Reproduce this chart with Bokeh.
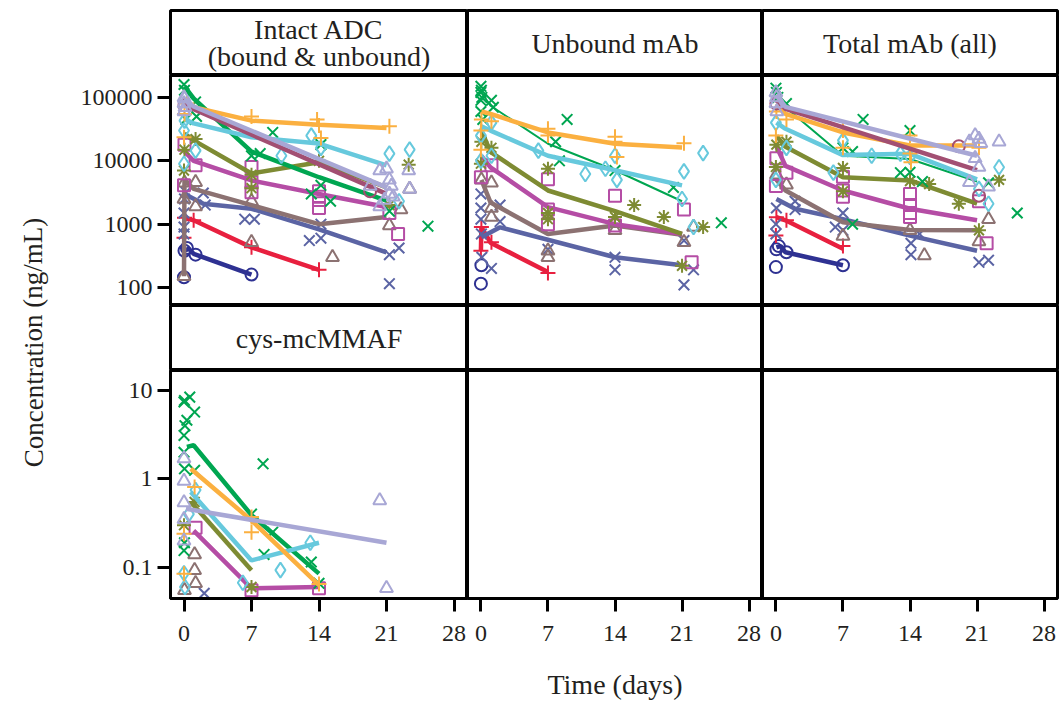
from bokeh.plotting import figure
from bokeh.layouts import row, column
from bokeh.models import Range1d, FixedTicker, CustomJSTickFormatter
from bokeh.core.properties import value
from bokeh.embed import file_html
from bokeh.resources import INLINE

FONT = "Liberation Serif"
INK = "#231F20"

# ---------------- panel / tick labels ----------------
STRIP_LABELS = ["Intact ADC\n(bound & unbound)", "Unbound mAb", "Total mAb (all)", "cys-mcMMAF", "", ""]
X_TICKS = [0, 7, 14, 21, 28]
Y_TICKS_TOP = [100, 1000, 10000, 100000]
Y_TICKS_BOTTOM = [0.1, 1, 10]

# ---------------- group styles (colour, marker) ----------------
GROUP_ORDER = ["navy", "red", "slate", "brown", "magenta", "olive", "green", "cyan", "orange", "rose", "lavender"]
COLORS = dict(navy="#2E3192", red="#E8203F", slate="#5B64A4", brown="#8C7272", magenta="#B54DA5",
              olive="#7E8B33", green="#00A651", cyan="#67C9DD", orange="#FBB040", rose="#A24F72",
              lavender="#A8A7D5")
MARKERS = dict(navy="circle", red="cross", slate="x", brown="triangle", magenta="square", olive="asterisk",
               green="x", cyan="diamond", orange="cross", rose="circle", lavender="triangle")
MARKER_SIZE = dict(circle=12, cross=15, x=15, triangle=13, square=12, asterisk=14, diamond=15)

# ---------------- Intact ADC (ng/mL) ----------------
adc_navy = dict(lt=[0.05, 0.5, 1, 7], lv=[380, 410, 340, 160],
                pt=[0, 0.05, 0.3, 1.2, 7], pv=[145, 380, 420, 330, 160])
adc_red = dict(lt=[0.05, 1, 7, 14], lv=[1260, 1150, 430, 190],
               pt=[0, 0.05, 1, 7, 14], pv=[610, 1260, 1150, 430, 190])
adc_slate = dict(lt=[0.05, 2, 7, 14, 21], lv=[3000, 2100, 1750, 830, 360],
                 pt=[0, 0, 0, 0.05, 0.2, 2, 2.2, 6.3, 7.3, 13, 14.2, 14.2, 21.3, 22.3, 21.3],
                 pv=[700, 900, 1500, 2500, 3200, 3100, 2000, 1200, 1200, 550, 600, 1000, 330, 420, 115])
adc_brown = dict(lt=[0, 0.05, 1, 7, 14, 21], lv=[150, 5000, 3600, 2000, 1000, 1300],
                 pt=[0, 0, 0.05, 1.2, 1.2, 7, 7, 15.4, 21.3, 22.5, 23.4],
                 pv=[150, 2500, 4500, 4600, 1900, 520, 2300, 300, 950, 1700, 3600])
adc_magenta = dict(lt=[0.05, 1, 7, 14, 21], lv=[14000, 10000, 4900, 3000, 1860],
                   pt=[0, 0.05, 1.2, 7, 7, 7, 14, 14, 14, 14, 21.3, 22.2],
                   pv=[4100, 18000, 8500, 8000, 4600, 3200, 3300, 2400, 1800, 2700, 1500, 700])
adc_olive = dict(lt=[0.05, 1, 7, 14, 21], lv=[27000, 21000, 6300, 9500, 3800],
                 pt=[0, 0.05, 1.2, 7, 7, 14, 21.3, 23.3], pv=[7000, 15000, 22000, 6000, 3700, 10000, 2000, 8700])
adc_green = dict(lt=[0.05, 1, 7, 14, 21], lv=[150000, 97000, 14000, 5500, 2350],
                 pt=[0, 0.05, 0.2, 1.2, 1.3, 7, 7.9, 9.2, 13.2, 14.2, 14.2, 15.2, 21.3, 25.3],
                 pv=[160000, 130000, 45000, 85000, 50000, 12000, 13000, 28000, 3000, 18000, 4100, 2300, 1600, 930])
adc_cyan = dict(lt=[0.05, 1, 7, 14, 21], lv=[45000, 39000, 23500, 18700, 8500],
                pt=[0, 0, 0.05, 1.2, 10.1, 13.2, 14.2, 21.3, 22.3, 23.4],
                pv=[9000, 30000, 43000, 14500, 12000, 25000, 16000, 13000, 2300, 15000])
adc_orange = dict(lt=[0.05, 1, 7, 14, 21], lv=[90000, 70000, 43000, 37000, 33000],
                  pt=[0, 0.05, 0.3, 7, 13.8, 14, 14.2, 21.3], pv=[23500, 55000, 80000, 50000, 45000, 36000, 23000, 35000])
adc_rose = dict(lt=[0.05, 1, 21], lv=[80000, 65000, 3000],
                pt=[0.05, 19.3], pv=[75000, 3300])
adc_lavender = dict(lt=[0.05, 1, 21], lv=[95000, 72000, 3800],
                    pt=[0, 0, 0, 0.05, 0.1, 20.3, 21, 21.3, 21.5, 21.3, 20.8, 20.3, 21.7, 23.3, 23.4, 19.3],
                    pv=[100000, 80000, 60000, 95000, 70000, 7000, 7500, 5000, 4000, 3000, 2400, 1900, 2700, 7000, 3600, 4000])

# ---------------- Unbound mAb (ng/mL) ----------------
unb_navy = dict(pt=[0, 0.05], pv=[115, 225])
unb_red = dict(lt=[0, 0.05, 1, 7], lv=[380, 900, 510, 175],
               pt=[0, 0.05, 1.1, 7], pv=[380, 900, 520, 170])
unb_slate = dict(lt=[0.05, 2, 14, 21], lv=[620, 890, 300, 225],
                 pt=[0, 0, 0, 0.05, 0.1, 1.1, 2, 2, 7, 14, 14, 21.2, 22.2, 21.2],
                 pv=[3000, 1800, 1200, 700, 300, 200, 2000, 1100, 400, 300, 190, 550, 190, 110])
unb_brown = dict(lt=[0.05, 1, 7, 14, 21], lv=[5000, 2200, 700, 950, 680],
                 pt=[0.05, 1.1, 1.1, 1.1, 7, 7, 14, 14, 22.2, 21.2],
                 pv=[5000, 4500, 1800, 1300, 380, 300, 800, 1100, 900, 520])
unb_magenta = dict(lt=[0.05, 1, 7, 14, 21], lv=[12000, 7900, 1860, 1000, 700],
                   pt=[0, 1.1, 7, 7, 7, 14, 14, 21.2, 22.0], pv=[5500, 8500, 5100, 1700, 1000, 2800, 950, 1700, 250])
unb_olive = dict(lt=[0.05, 1, 7, 14, 21], lv=[30000, 13800, 3400, 1600, 700],
                 pt=[0, 0.05, 1.1, 7, 7, 7, 14, 16, 19.1, 23.2, 21],
                 pv=[9000, 20000, 16000, 7500, 1500, 1200, 1300, 2000, 1300, 900, 220])
unb_green = dict(lt=[0.05, 1, 7, 14, 21], lv=[120000, 74000, 18600, 7100, 2300],
                 pt=[0, 0, 0, 0, 0.05, 0.1, 0.2, 1.1, 1.3, 7.8, 8.2, 9, 14, 20.1, 25.1],
                 pv=[150000, 120000, 90000, 60000, 130000, 100000, 45000, 90000, 70000, 20000, 10000, 45000, 7000, 3800, 1050])
unb_cyan = dict(lt=[0.05, 1, 7, 14, 21], lv=[35000, 30000, 12000, 7100, 4100],
                pt=[0, 0, 1.1, 1.1, 6, 10.9, 13, 14, 14.2, 21.2, 21, 23.2, 22.2],
                pv=[10000, 25000, 40000, 12000, 14500, 6200, 7500, 12000, 5000, 6800, 2500, 13200, 900])
unb_orange = dict(lt=[0.05, 1, 7, 14, 21], lv=[60000, 55000, 28000, 18600, 16200],
                  pt=[0, 0, 0.05, 1.1, 7, 7, 14, 14, 14.2, 21.2],
                  pv=[30000, 15000, 45000, 42000, 32000, 25000, 24000, 20000, 11500, 19000])

# ---------------- Total mAb (ng/mL) ----------------
tot_navy = dict(lt=[0.05, 0.5, 1, 7], lv=[430, 450, 360, 225],
                pt=[0, 0.05, 0.3, 1.1, 7], pv=[210, 400, 450, 360, 225])
tot_red = dict(lt=[0.05, 1, 7], lv=[1290, 1150, 410],
               pt=[0, 0.05, 1.1, 7], pv=[660, 1290, 1150, 450])
tot_slate = dict(lt=[0.05, 2, 7, 14, 21], lv=[2500, 1750, 1200, 660, 380],
                 pt=[0, 0, 0.05, 2, 2, 6.2, 7, 7, 14.1, 14.1, 15, 21.2, 22.2],
                 pv=[700, 1000, 1800, 2300, 1700, 900, 1500, 800, 330, 500, 700, 250, 270])
tot_brown = dict(lt=[0.05, 1, 7, 14, 21], lv=[5000, 3400, 1070, 810, 800],
                 pt=[0.05, 1.1, 7, 14, 15.5, 21.2, 22.2], pv=[6000, 4200, 650, 800, 320, 530, 1200])
tot_magenta = dict(lt=[0.05, 1, 7, 14, 21], lv=[17000, 8300, 3400, 1750, 1150],
                   pt=[0, 0.05, 1.1, 7, 7, 7, 14, 14, 14, 14, 22.0, 21.2],
                   pv=[4000, 11000, 6500, 5600, 3400, 2700, 3000, 2000, 1500, 1300, 500, 2300])
tot_olive = dict(lt=[0.05, 1, 7, 14, 21], lv=[25000, 16600, 5500, 4900, 2100],
                 pt=[0, 0.05, 1.1, 7, 7, 14, 16, 19.1, 23.3, 21.2],
                 pv=[8000, 18000, 20000, 7700, 3300, 4800, 4300, 2100, 5000, 800])
tot_green = dict(lt=[0.05, 1, 7, 14, 21], lv=[130000, 70000, 12000, 10700, 4700],
                 pt=[0, 0.05, 0.2, 1.1, 7, 8, 8, 9.1, 13, 14, 14, 15.3, 22.2, 25.2],
                 pv=[140000, 120000, 100000, 80000, 16000, 14000, 1000, 45000, 6500, 30000, 6600, 4700, 4500, 1500])
tot_cyan = dict(lt=[0.05, 1, 7, 14, 21], lv=[40000, 32000, 12300, 12900, 5100],
                pt=[0, 0, 1.1, 6, 7, 10, 13, 14, 21.2, 22.2, 23.3],
                pv=[5000, 40000, 16000, 6500, 21000, 12000, 13000, 11500, 3600, 2100, 7900])
tot_orange = dict(lt=[0.05, 1, 7, 14, 21], lv=[75000, 55000, 28000, 17400, 17400],
                  pt=[0, 0.05, 1.1, 7, 7, 14, 14, 14.1, 21.2],
                  pv=[25000, 60000, 45000, 30000, 16000, 25000, 13000, 9500, 16000])
tot_rose = dict(lt=[0.05, 1, 21], lv=[90000, 66000, 7100],
                pt=[0.05, 19.1, 21.2], pv=[80000, 17000, 2800])
tot_lavender = dict(lt=[0.05, 1, 21], lv=[110000, 71000, 12000],
                    pt=[0, 0, 0.05, 0.1, 20.2, 20.8, 21.2, 21.4, 23.3, 21.2, 22.2, 20.2, 20.8],
                    pv=[120000, 80000, 100000, 60000, 20000, 25000, 22000, 19000, 20000, 8000, 3900, 4600, 11000])

# ---------------- cys-mcMMAF (ng/mL) ----------------
mmaf_slate = dict(pt=[2.1], pv=[0.051])
mmaf_brown = dict(pt=[1.1, 1.1, 1.2, 0.05], pv=[0.14, 0.093, 0.066, 0.055])
mmaf_magenta = dict(lt=[1, 7, 14], lv=[0.26, 0.058, 0.06], pt=[1.2, 7, 14], pv=[0.28, 0.055, 0.058])
mmaf_olive = dict(lt=[0.7, 7], lv=[0.55, 0.093], pt=[1.1, 0, 7], pv=[0.55, 0.3, 0.06])
mmaf_green = dict(lt=[0.3, 1, 7, 14], lv=[2.3, 2.4, 0.39, 0.085],
                  pt=[0, 0.05, 0.6, 1.1, 0.3, 0.1, 0, 0, 0.05, 1.1, 0, 0.05, 7, 8.2, 9.2, 8.3, 13.2, 14],
                  pv=[7.4, 7.7, 8.4, 5.7, 4.6, 4.0, 3.1, 2.0, 1.3, 1.25, 0.155, 0.19, 0.4, 1.48, 0.25, 0.14, 0.115, 0.066])
mmaf_cyan = dict(lt=[0.7, 7, 14], lv=[0.71, 0.12, 0.19],
                 pt=[0, 0.1, 1.2, 6.1, 10, 13.1, 0.5], pv=[0.086, 0.06, 0.75, 0.067, 0.093, 0.19, 0.4])
mmaf_orange = dict(lt=[0.7, 7, 14], lv=[1.3, 0.34, 0.063],
                   pt=[0, 0, 1.1, 7, 7, 14], pv=[0.24, 0.085, 0.81, 0.37, 0.25, 0.065])
mmaf_lavender = dict(lt=[0.2, 21], lv=[0.46, 0.19],
                     pt=[0, 0, 0, 0, 0, 20.3, 21], pv=[1.7, 0.95, 0.54, 0.35, 0.2, 0.57, 0.058])

PANELS = [
    dict(navy=adc_navy, red=adc_red, slate=adc_slate, brown=adc_brown, magenta=adc_magenta, olive=adc_olive,
         green=adc_green, cyan=adc_cyan, orange=adc_orange, rose=adc_rose, lavender=adc_lavender),
    dict(navy=unb_navy, red=unb_red, slate=unb_slate, brown=unb_brown, magenta=unb_magenta, olive=unb_olive,
         green=unb_green, cyan=unb_cyan, orange=unb_orange),
    dict(navy=tot_navy, red=tot_red, slate=tot_slate, brown=tot_brown, magenta=tot_magenta, olive=tot_olive,
         green=tot_green, cyan=tot_cyan, orange=tot_orange, rose=tot_rose, lavender=tot_lavender),
    dict(slate=mmaf_slate, brown=mmaf_brown, magenta=mmaf_magenta, olive=mmaf_olive, green=mmaf_green,
         cyan=mmaf_cyan, orange=mmaf_orange, lavender=mmaf_lavender),
]
THIN_GREEN = [False, True, True, False]

# ---------------- layout sizes ----------------
LABEL_W = 58
LEFT_B = 112
FRAME_W = [297, 295, 295]
STRIP_H = 65
TOP_H = 230
BOT_H = 228
BOTTOM_B = 96
TOP_B = 10
RIGHT_B = 2
X_RANGE = (-1.4, 29.4)
Y_TOP = (52, 222000)
Y_BOT = (0.0445, 16.8)

TICK_FMT = CustomJSTickFormatter(code="return tick.toString();")


def style_axis(ax):
    ax.axis_line_width = 3
    ax.axis_line_color = "black"
    ax.major_tick_line_width = 3
    ax.major_tick_line_color = "black"
    ax.major_tick_out = 13
    ax.major_tick_in = 0
    ax.minor_tick_line_color = None
    ax.major_label_text_font = FONT
    ax.major_label_text_font_size = "24px"
    ax.major_label_text_color = INK
    ax.axis_label_text_font = FONT
    ax.axis_label_text_font_size = "28px"
    ax.axis_label_text_font_style = "normal"
    ax.axis_label_text_color = INK


def strip(col, label, top):
    p = figure(frame_width=FRAME_W[col], frame_height=STRIP_H,
               x_range=Range1d(0, 1), y_range=Range1d(0, 1),
               output_backend="svg", toolbar_location=None,
               x_axis_location=None, y_axis_location=None,
               min_border_left=LEFT_B if col == 0 else 0,
               min_border_right=RIGHT_B if col == 2 else 0,
               min_border_top=TOP_B if top else 0, min_border_bottom=0)
    p.grid.visible = False
    p.outline_line_color = "black"
    p.outline_line_width = 3
    if label:
        p.text(x=[0.5], y=[0.5], text=[label], text_align="center", text_baseline="middle",
               text_font=value(FONT), text_font_size="28px", text_color=INK, text_line_height=0.88)
    return p


def panel(col, bottom_row, data, thin_green):
    yr = Y_BOT if bottom_row else Y_TOP
    p = figure(frame_width=FRAME_W[col], frame_height=BOT_H if bottom_row else TOP_H,
               x_range=Range1d(*X_RANGE), y_range=Range1d(*yr), y_axis_type="log",
               output_backend="svg", toolbar_location=None,
               x_axis_location="below" if bottom_row else None,
               y_axis_location="left" if col == 0 else None,
               min_border_left=LEFT_B if col == 0 else 0,
               min_border_right=RIGHT_B if col == 2 else 0,
               min_border_top=0, min_border_bottom=BOTTOM_B if bottom_row else 0)
    p.grid.visible = False
    p.outline_line_color = "black"
    p.outline_line_width = 3
    if bottom_row:
        p.xaxis.ticker = FixedTicker(ticks=X_TICKS)
        p.xaxis.major_label_standoff = 14
        style_axis(p.xaxis[0])
        if col == 1:
            p.xaxis.axis_label = "Time (days)"
            p.xaxis.axis_label_standoff = 25
    if col == 0:
        p.yaxis.ticker = FixedTicker(ticks=Y_TICKS_BOTTOM if bottom_row else Y_TICKS_TOP)
        p.yaxis.formatter = TICK_FMT
        p.yaxis.major_label_standoff = 5
        style_axis(p.yaxis[0])
    if data:
        for g in GROUP_ORDER:
            d = data.get(g)
            if not d:
                continue
            c = COLORS[g]
            if d.get("pt"):
                m = MARKERS[g]
                p.scatter(d["pt"], d["pv"], marker=m, size=MARKER_SIZE[m], line_color=c,
                          fill_color=None, line_width=2)
            if d.get("lt"):
                lw = 2 if (g == "green" and thin_green) else 4.5
                p.line(d["lt"], d["lv"], line_color=c, line_width=lw)
    return p


total_h = TOP_B + STRIP_H + TOP_H + STRIP_H + BOT_H + BOTTOM_B
lab = figure(width=LABEL_W, height=total_h, x_range=Range1d(0, LABEL_W), y_range=Range1d(0, total_h),
             output_backend="svg", toolbar_location=None, x_axis_location=None, y_axis_location=None,
             min_border=0)
lab.grid.visible = False
lab.outline_line_color = None
lab.text(x=[33], y=[total_h - 342], text=["Concentration (ng/mL)"], angle=1.5708,
         text_align="center", text_baseline="middle", text_font=value(FONT), text_font_size="27px",
         text_color=INK)

r1 = row(*[strip(c, STRIP_LABELS[c], True) for c in range(3)])
r2 = row(*[panel(c, False, PANELS[c], THIN_GREEN[c]) for c in range(3)])
r3 = row(*[strip(c, STRIP_LABELS[3 + c], False) for c in range(3)])
r4 = row(*[panel(c, True, PANELS[3] if c == 0 else None, THIN_GREEN[3]) for c in range(3)])

layout = row(lab, column(r1, r2, r3, r4))
open("out.html", "w").write(file_html(layout, INLINE))
